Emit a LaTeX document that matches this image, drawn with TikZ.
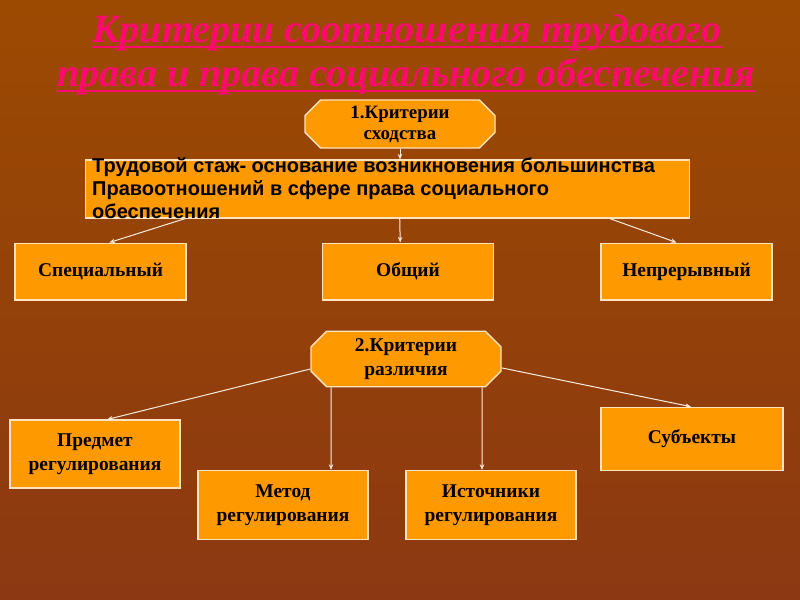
\documentclass[tikz,border=0pt]{standalone}
\usepackage{fontspec}
\setmainfont{Liberation Serif}
\newfontfamily\arialfont{Liberation Sans}
\usetikzlibrary{arrows.meta, shapes.misc}
\definecolor{SlideTop}{HTML}{9C4A02}
\definecolor{SlideMid}{HTML}{B85C10}
\definecolor{SlideLow}{HTML}{8C3812}
\definecolor{BoxOrange}{HTML}{FF9900}
\definecolor{BoxEdge}{HTML}{FFE3BF}
\definecolor{TitlePink}{HTML}{FF0A6E}
\definecolor{LinkWhite}{HTML}{FFEDE0}
\tikzset{
  orangebox/.style={draw=BoxEdge, line width=1.2pt, fill=BoxOrange, align=center, inner sep=2pt, font=\bfseries\fontsize{17.5}{22}\selectfont},
  octbox/.style={orangebox, chamfered rectangle, chamfered rectangle xsep=11pt},
  titletext/.style={text=TitlePink, inner sep=0pt, anchor=base, font=\bfseries\itshape\fontsize{36}{40.5}\selectfont},
  underline/.style={draw=TitlePink, line width=1.8pt},
  stazhtext/.style={align=left, inner sep=0pt, font=\arialfont\bfseries\fontsize{18}{21}\selectfont},
  arrow/.style={-{Stealth[length=5pt,width=4pt]}, line width=0.9pt, draw=LinkWhite}
}

\begin{document}
\begin{tikzpicture}[x=0.9pt, y=-0.9pt]
\useasboundingbox (0,0) rectangle (800,600);
\shade[top color=SlideTop, middle color=SlideMid, bottom color=SlideLow] (0,0) rectangle (800,600);

% title
\node[titletext] (title1) at (407,42) {Критерии соотношения трудового};
\node[titletext] (title2) at (406,86) {права и права социального обеспечения};
\draw[underline] ([yshift=-4.5pt]title1.base west) -- ([yshift=-4.5pt]title1.base east);
\draw[underline] ([yshift=-4.5pt]title2.base west) -- ([yshift=-4.5pt]title2.base east);

% criteria of similarity
\node[octbox, minimum width=171pt, minimum height=43pt, font=\bfseries\fontsize{17}{19}\selectfont] (crit1) at (400,124) {1.Критерии\\сходства};
\node[orangebox, minimum width=544pt, minimum height=52pt] (stazh) at (387.5,189) {};
\node[stazhtext, anchor=north west] (stazhtext) at (92,157) {Трудовой стаж- основание возникновения большинства\\Правоотношений в сфере права социального\\обеспечения};
\node[orangebox, minimum width=154pt, minimum height=51pt] (spec) at (100.5,271.5) {Специальный};
\node[orangebox, minimum width=154pt, minimum height=51pt] (obsh) at (408,271.5) {Общий};
\node[orangebox, minimum width=154pt, minimum height=51pt] (neprer) at (686.5,271.5) {Непрерывный};

\draw[arrow] (crit1.south) -- (crit1.south |- stazh.north);
\draw[arrow] ([xshift=-182pt]stazh.south) -- ([xshift=8pt]spec.north);
\draw[arrow] ([xshift=11pt]stazh.south) -- ([xshift=-7pt]obsh.north);
\draw[arrow] ([xshift=200pt]stazh.south) -- ([xshift=-9pt]neprer.north);

% criteria of difference
\node[octbox, minimum width=171pt, minimum height=50pt] (crit2) at (406,359) {2.Критерии\\различия};
\node[orangebox, minimum width=153pt, minimum height=61pt] (predmet) at (95,454) {Предмет\\регулирования};
\node[orangebox, minimum width=153pt, minimum height=62pt] (metod) at (283,505) {Метод\\регулирования};
\node[orangebox, minimum width=153pt, minimum height=62pt] (istoch) at (491,505) {Источники\\регулирования};
\node[orangebox, minimum width=164pt, minimum height=57pt] (subj) at (692,439) {Субъекты};

\draw[arrow] ([yshift=-9pt]crit2.west) -- ([xshift=11pt]predmet.north);
\draw[arrow] ([xshift=-67.5pt]crit2.south) -- ([xshift=43.2pt]metod.north);
\draw[arrow] ([xshift=68.4pt]crit2.south) -- ([xshift=-8.1pt]istoch.north);
\draw[arrow] ([yshift=-8pt]crit2.east) -- ([xshift=-1pt]subj.north);
\end{tikzpicture}
\end{document}
